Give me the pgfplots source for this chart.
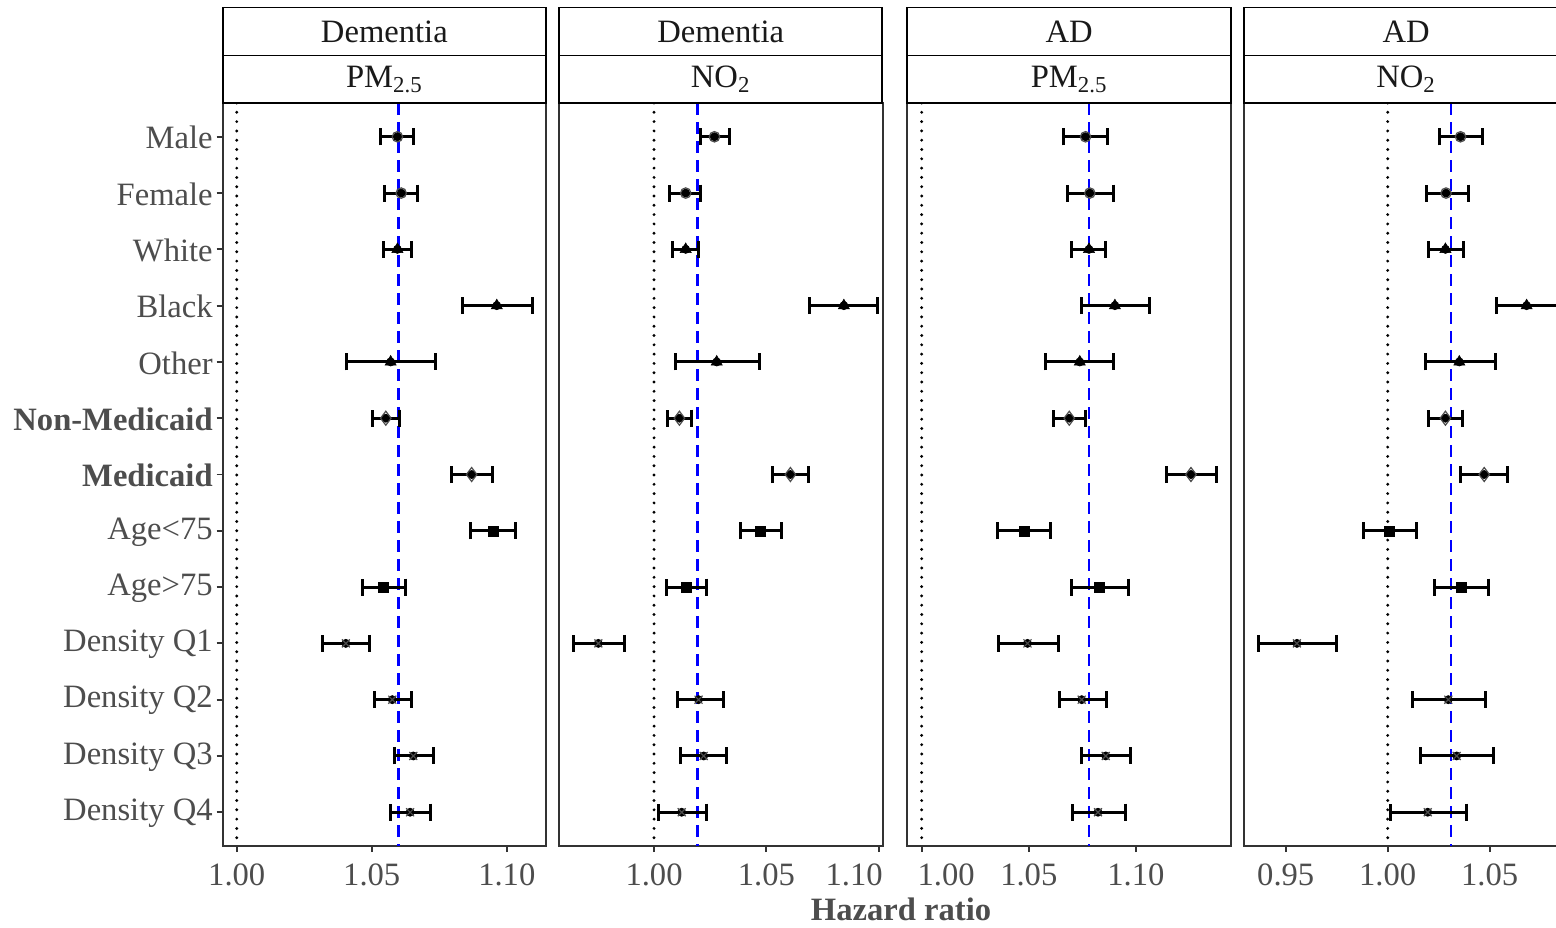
\documentclass[border=0pt]{standalone}
\usepackage{fontspec}
\setmainfont{Liberation Serif}
\usepackage{pgfplots}
\usepackage{pgfplotstable}
\pgfplotsset{compat=1.18}
\definecolor{gtxt}{HTML}{4D4D4D}
\definecolor{gtick}{HTML}{333333}
\newcommand{\fs}{\fontsize{16.3}{19}\selectfont}

% r = row, g = marker group (1 circle, 2 triangle, 3 diamond, 4 square, 5 cross),
% e = estimate, l = lower CI, h = upper CI
\pgfplotstableread{
r g e l h
1 1 1.0595 1.0534 1.0654
2 1 1.0609 1.0546 1.0670
3 2 1.0595 1.0543 1.0646
4 2 1.0963 1.0837 1.1095
5 2 1.0570 1.0407 1.0737
6 3 1.0552 1.0502 1.0602
7 3 1.0870 1.0794 1.0948
8 4 1.0950 1.0867 1.1032
9 4 1.0543 1.0467 1.0626
10 5 1.0404 1.0317 1.0490
11 5 1.0576 1.0510 1.0646
12 5 1.0654 1.0586 1.0728
13 5 1.0642 1.0568 1.0718
}\tabA
\pgfplotstableread{
r g e l h
1 1 1.0269 1.0205 1.0334
2 1 1.0141 1.0070 1.0208
3 2 1.0141 1.0083 1.0200
4 2 1.0845 1.0691 1.0993
5 2 1.0279 1.0097 1.0468
6 3 1.0113 1.0059 1.0168
7 3 1.0607 1.0528 1.0687
8 4 1.0475 1.0383 1.0566
9 4 1.0143 1.0057 1.0235
10 5 0.9752 0.9640 0.9868
11 5 1.0198 1.0104 1.0309
12 5 1.0221 1.0116 1.0324
13 5 1.0123 1.0019 1.0235
}\tabB
\pgfplotstableread{
r g e l h
1 1 1.0765 1.0664 1.0866
2 1 1.0785 1.0681 1.0894
3 2 1.0781 1.0700 1.0859
4 2 1.0902 1.0747 1.1062
5 2 1.0738 1.0580 1.0894
6 3 1.0689 1.0614 1.0767
7 3 1.1257 1.1143 1.1377
8 4 1.0477 1.0355 1.0603
9 4 1.0829 1.0700 1.0964
10 5 1.0494 1.0358 1.0641
11 5 1.0747 1.0645 1.0863
12 5 1.0859 1.0747 1.0977
13 5 1.0823 1.0703 1.0952
}\tabC
\pgfplotstableread{
r g e l h
1 1 1.0357 1.0256 1.0466
2 1 1.0286 1.0188 1.0395
3 2 1.0283 1.0201 1.0373
4 2 1.0681 1.0531 1.0831
5 2 1.0351 1.0184 1.0526
6 3 1.0283 1.0201 1.0368
7 3 1.0473 1.0359 1.0588
8 4 1.0008 0.9882 1.0139
9 4 1.0359 1.0228 1.0493
10 5 0.9555 0.9368 0.9750
11 5 1.0297 1.0123 1.0477
12 5 1.0338 1.0160 1.0520
13 5 1.0196 1.0013 1.0387
}\tabD

\pgfplotsset{
  panel/.style={
    scale only axis, width=161.75pt, height=371.5pt,
    anchor=south west,
    ymin=0.4, ymax=13.6, y dir=reverse,
    ytick=\empty,
    axis line style={gtick, line width=1pt},
    tick align=outside, xtick pos=bottom, ytick pos=left,
    major tick length=3pt,
    every tick/.style={gtick, line width=0.9pt},
    tick label style={font=\fs, text=gtxt},
    xticklabel style={yshift=-2.5pt},
  },
  ebars/.style={only marks, mark=none, forget plot,
    error bars/.cd, x dir=both, x explicit, error mark=|,
    error bar style={draw=black, line width=1.5pt},
    error mark options={draw=black, line width=1.5pt, mark size=4.25pt}},
  vdot/.style={black, line width=1.6pt, line cap=round, dash pattern=on 0pt off 4.65pt, forget plot},
  vdash/.style={blue, line width=1.4pt, dash pattern=on 6pt off 3.5pt, forget plot},
  mk1/.style={mark=o, mark size=2.6pt, mark options={draw=black!70, line width=0.6pt}},
  mk2/.style={mark=triangle*, mark size=3.2pt, mark options={draw=black, fill=black, line width=0.3pt}},
  mk3/.style={mark=diamond, mark size=3.5pt, mark options={draw=black!70, line width=0.6pt}},
  mk4/.style={mark=square*, mark size=2.5pt, mark options={draw=black, fill=black, line width=0.3pt}},
  mk5/.style={mark=x, mark size=2.8pt, mark options={draw=black!70, line width=0.6pt}},
}
\newcommand{\grp}[2]{%
  \addplot[only marks, forget plot, mk#2, restrict expr to domain={\thisrow{g}}{#2:#2}] table[x=e, y=r] {#1};}
\newcommand{\panelplots}[2]{%
  \addplot[vdot] coordinates {(1,0.4) (1,13.6)};
  \addplot[vdash] coordinates {(#2,0.4) (#2,13.6)};
  \addplot[ebars] table[x=e, y=r, x error plus expr=\thisrow{h}-\thisrow{e}, x error minus expr=\thisrow{e}-\thisrow{l}] {#1};
  \grp{#1}{1}\grp{#1}{2}\grp{#1}{3}\grp{#1}{4}\grp{#1}{5}
}
\newcommand{\strip}[4]{% left, right (pt), top text, bottom text
  \draw[black, line width=0.9pt, fill=white] (#1pt,459.75pt) rectangle (#2pt,435.75pt);
  \draw[black, line width=0.9pt, fill=white] (#1pt,435.75pt) rectangle (#2pt,412pt);
  \node[font=\fs, text=black!90] at ({(#1+#2)/2*1pt},447.75pt) {#3};
  \node[font=\fs, text=black!90] at ({(#1+#2)/2*1pt},423.75pt) {#4};
}

\begin{document}
\begin{tikzpicture}
\useasboundingbox (0pt,0pt) rectangle (778pt,463.5pt);
\clip (0pt,0pt) rectangle (778pt,463.5pt);

\begin{axis}[panel, at={(111.35pt,40.5pt)}, xmin=0.9948, xmax=1.1146,
  xtick={1.00,1.05,1.10}, xticklabels={1.00,1.05,1.10},
  ytick={1,...,13},
  yticklabels={Male,Female,White,Black,Other,\textbf{Non-Medicaid},\textbf{Medicaid},Age<75,Age>75,Density Q1,Density Q2,Density Q3,Density Q4},
  yticklabel style={xshift=1.5pt, yshift=-0.5pt}]
\panelplots{\tabA}{1.0599}
\end{axis}

\begin{axis}[panel, at={(279.5pt,40.5pt)}, xmin=0.9577, xmax=1.1017,
  xtick={1.00,1.05,1.10}, xticklabels={1.00,1.05,\makebox[0pt][r]{1.10\hspace{-2pt}}}]
\panelplots{\tabB}{1.0193}
\end{axis}

\begin{axis}[panel, at={(453.65pt,40.5pt)}, xmin=0.9933, xmax=1.1443,
  xtick={1.00,1.05,1.10}, xticklabels={\makebox[0pt][l]{\hspace{-2pt}1.00},1.05,1.10}]
\panelplots{\tabC}{1.0781}
\end{axis}

\begin{axis}[panel, at={(622.15pt,40.5pt)}, xmin=0.9297, xmax=1.0883,
  xtick={0.95,1.00,1.05}, xticklabels={0.95,1.00,1.05}]
\panelplots{\tabD}{1.0310}
\end{axis}

\strip{111.35}{273}{Dementia}{PM\textsubscript{2.5}}
\strip{279.5}{441.15}{Dementia}{NO\textsubscript{2}}
\strip{453.65}{615.5}{AD}{PM\textsubscript{2.5}}
\strip{622.15}{783.9}{AD}{NO\textsubscript{2}}

\node[font=\fs\bfseries, text=gtxt] at (450.5pt,9pt) {Hazard ratio};
\end{tikzpicture}
\end{document}
